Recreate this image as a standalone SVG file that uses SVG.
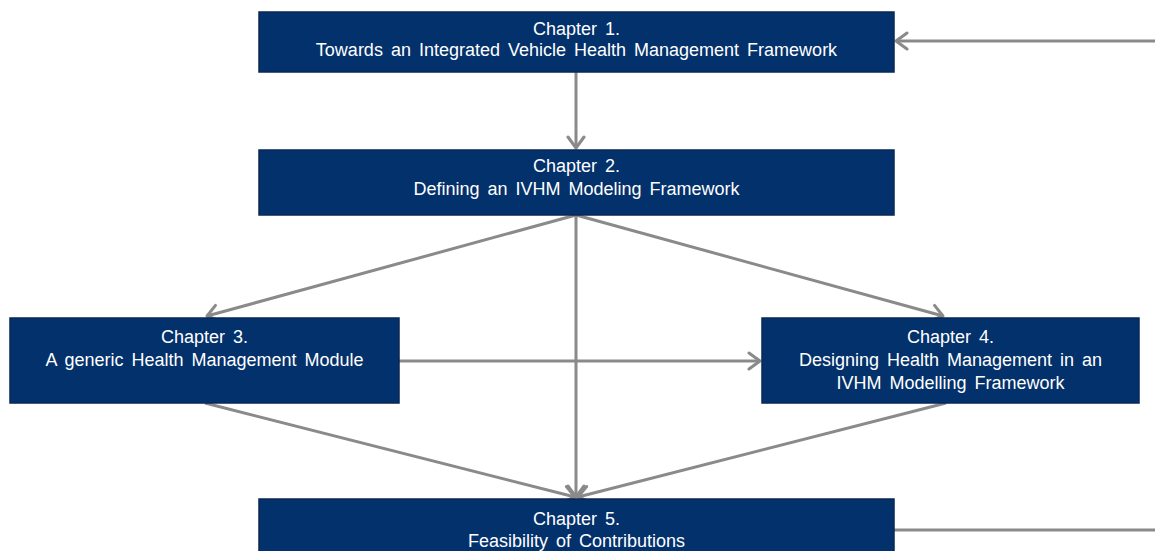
<svg xmlns="http://www.w3.org/2000/svg" width="1155" height="551" viewBox="0 0 1155 551">
  <style>
    .box { fill: #03316b; stroke: #0a2756; stroke-width: 1.5; }
    .lbl { fill: #ffffff; font-family: "Liberation Sans", Arial, sans-serif; font-size: 18px; word-spacing: 3px; text-anchor: middle; }
    .edge { fill: none; stroke: #8a8a8a; stroke-width: 3; }
  </style>
  <defs>
    <marker id="arr" viewBox="-14 -10 16 20" refX="0" refY="0" markerWidth="16" markerHeight="20" markerUnits="userSpaceOnUse" orient="auto">
      <path d="M -11 -8 L 0 0 L -11 8" fill="none" stroke="#8a8a8a" stroke-width="3" stroke-linecap="round" stroke-linejoin="round"/>
    </marker>
  </defs>
  <rect width="1155" height="551" fill="#ffffff"/>

  <g id="connectors">
    <line class="edge" x1="576" y1="72" x2="576" y2="148" marker-end="url(#arr)"/>
    <line class="edge" x1="576" y1="215" x2="207" y2="316" marker-end="url(#arr)"/>
    <line class="edge" x1="576" y1="215" x2="943" y2="316" marker-end="url(#arr)"/>
    <line class="edge" x1="576" y1="215" x2="576" y2="497" marker-end="url(#arr)"/>
    <line class="edge" x1="399" y1="361" x2="760" y2="361" marker-end="url(#arr)"/>
    <line class="edge" x1="205" y1="403" x2="575" y2="497" marker-end="url(#arr)"/>
    <line class="edge" x1="946" y1="403" x2="578" y2="497" marker-end="url(#arr)"/>
    <line class="edge" x1="894" y1="530" x2="1155" y2="530"/>
    <line class="edge" x1="1155" y1="41" x2="896" y2="41" marker-end="url(#arr)"/>
  </g>

  <g id="chapter1">
    <rect class="box" x="259" y="12" width="635" height="60"/>
    <text class="lbl" x="576.5" y="35">Chapter 1.</text>
    <text class="lbl" x="576.5" y="56">Towards an Integrated Vehicle Health Management Framework</text>
  </g>

  <g id="chapter2">
    <rect class="box" x="259" y="150" width="635" height="65"/>
    <text class="lbl" x="576.5" y="172">Chapter 2.</text>
    <text class="lbl" x="576.5" y="195">Defining an IVHM Modeling Framework</text>
  </g>

  <g id="chapter3">
    <rect class="box" x="10" y="318" width="389" height="85"/>
    <text class="lbl" x="204.5" y="343">Chapter 3.</text>
    <text class="lbl" x="204.5" y="366">A generic Health Management Module</text>
  </g>

  <g id="chapter4">
    <rect class="box" x="762" y="318" width="377" height="85"/>
    <text class="lbl" x="950.5" y="343">Chapter 4.</text>
    <text class="lbl" x="950.5" y="366">Designing Health Management in an</text>
    <text class="lbl" x="950.5" y="389">IVHM Modelling Framework</text>
  </g>

  <g id="chapter5">
    <rect class="box" x="259" y="499" width="635" height="60"/>
    <text class="lbl" x="576.5" y="525">Chapter 5.</text>
    <text class="lbl" x="576.5" y="547">Feasibility of Contributions</text>
  </g>
</svg>
